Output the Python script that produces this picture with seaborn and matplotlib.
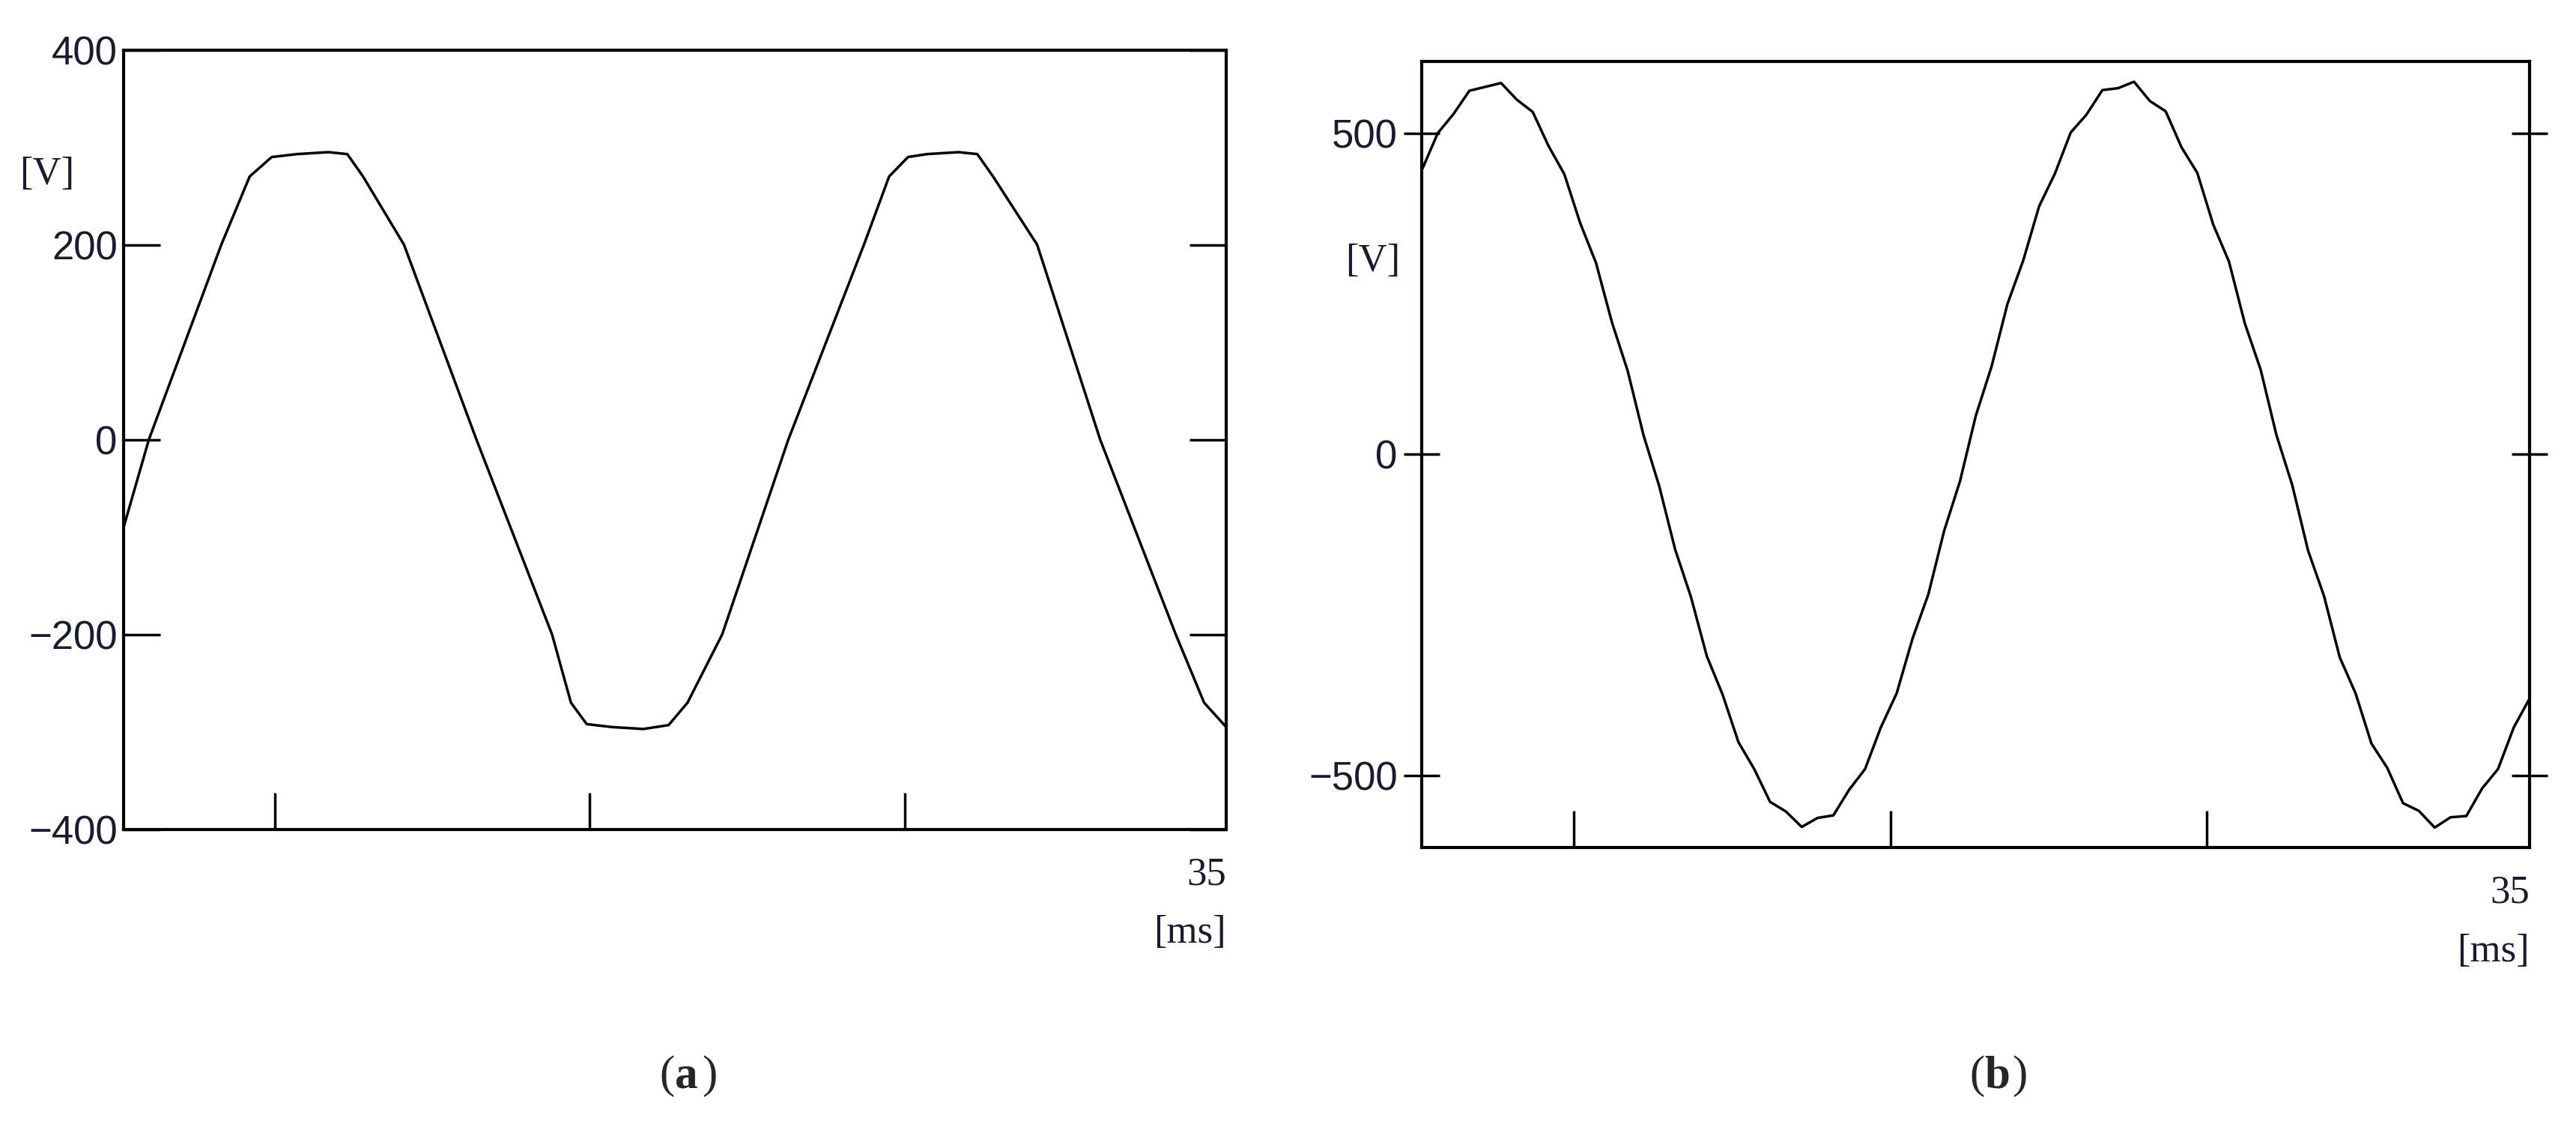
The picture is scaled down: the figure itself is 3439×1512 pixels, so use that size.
import matplotlib
matplotlib.use('Agg')
import matplotlib.pyplot as plt
import seaborn as sns
import pandas as pd

# waveform (a): clipped / trapezoidal voltage
t_a = [0, 0.8, 3.1, 4.0, 4.7, 5.5, 6.5, 7.1, 7.6, 8.9, 11.2, 13.6, 14.2, 14.7, 15.5,
       16.5, 17.3, 17.9, 19.0, 21.1, 23.5, 24.3, 24.9, 25.5, 26.5, 27.1, 27.6, 29.0,
       31.0, 33.4, 34.3, 35.0]
v_a = [-90, 0, 200, 270, 290, 293, 295, 293, 270, 200, 0, -200, -270, -292, -295,
       -297, -293, -270, -200, 0, 200, 270, 290, 293, 295, 293, 270, 200,
       0, -200, -270, -295]

# waveform (b): sine with ripple, sampled every 0.5 ms
t_b = [i * 0.5 for i in range(71)]
v_b = [443, 500, 530, 566, 572, 578, 552, 533, 480, 436, 360, 298, 206, 130, 30,
       -50, -148, -222, -314, -374, -448, -490, -541, -556, -580, -566, -562, -522,
       -490, -425, -372, -287, -218, -119, -42, 60, 137, 234, 302, 386, 437, 501,
       529, 567, 570, 580, 550, 534, 478, 438, 358, 300, 204, 132, 30, -48, -150,
       -220, -316, -372, -450, -488, -543, -555, -581, -565, -563, -520, -490, -425,
       -380]

df_a = pd.DataFrame({'t': t_a, 'v': v_a})
df_b = pd.DataFrame({'t': t_b, 'v': v_b})

sns.set_style('white')
plt.rcParams['font.family'] = ['Liberation Sans', 'DejaVu Sans']

fig = plt.figure(figsize=(34.39, 15.12), dpi=100)
ax_a = fig.add_axes([0.048, 0.268, 0.428, 0.688])
ax_b = fig.add_axes([0.552, 0.252, 0.430, 0.694])

TXT = '#1a1a33'
FS = 38

def style(ax, ylim, yticks, ydir):
    ax.set_xlim(0, 35)
    ax.set_ylim(*ylim)
    ax.set_xticks([4.8, 14.8, 24.8])
    ax.set_xticklabels([])
    ax.set_yticks(yticks)
    ax.set_yticklabels([f'{y:d}'.replace('-', '\u2212') for y in yticks], fontsize=FS, color=TXT)
    ax.tick_params(axis='x', direction='in', length=35, width=2.5, color='black',
                   bottom=True, top=False)
    ax.tick_params(axis='y', direction=ydir, length=35, width=2.5, color='black',
                   left=True, right=True, pad=6)
    for s in ax.spines.values():
        s.set_color('black')
        s.set_linewidth(3)
    ax.set_xlabel('')
    ax.set_ylabel('')
    ax.text(1.0, -0.035, '35', transform=ax.transAxes, ha='right', va='top',
            fontsize=FS, color=TXT, family='Liberation Serif')
    ax.text(1.0, -0.11, '[ms]', transform=ax.transAxes, ha='right', va='top',
            fontsize=FS, color=TXT, family='Liberation Serif')

sns.lineplot(data=df_a, x='t', y='v', ax=ax_a, color='black', linewidth=2.5)
style(ax_a, (-400, 400), [-400, -200, 0, 200, 400], 'in')
ax_a.text(-0.045, 0.84, '[V]', transform=ax_a.transAxes, ha='right', va='center',
          fontsize=FS, color=TXT, family='Liberation Serif')

sns.lineplot(data=df_b, x='t', y='v', ax=ax_b, color='black', linewidth=2.5)
style(ax_b, (-612, 612), [-500, 0, 500], 'inout')
ax_b.text(-0.02, 0.745, '[V]', transform=ax_b.transAxes, ha='right', va='center',
          fontsize=FS, color=TXT, family='Liberation Serif')

CAP = 44
for x0, lab in [(0.262, 'a'), (0.7705, 'b')]:
    fig.text(x0, 0.05, '(', ha='right', va='center', fontsize=CAP, family='Liberation Serif')
    fig.text(x0, 0.05, lab, ha='left', va='center', fontsize=CAP, fontweight='bold', family='Liberation Serif')
    fig.text(x0 + 0.0105, 0.05, ')', ha='left', va='center', fontsize=CAP, family='Liberation Serif')

fig.savefig('out.png', dpi=100, facecolor='white')
